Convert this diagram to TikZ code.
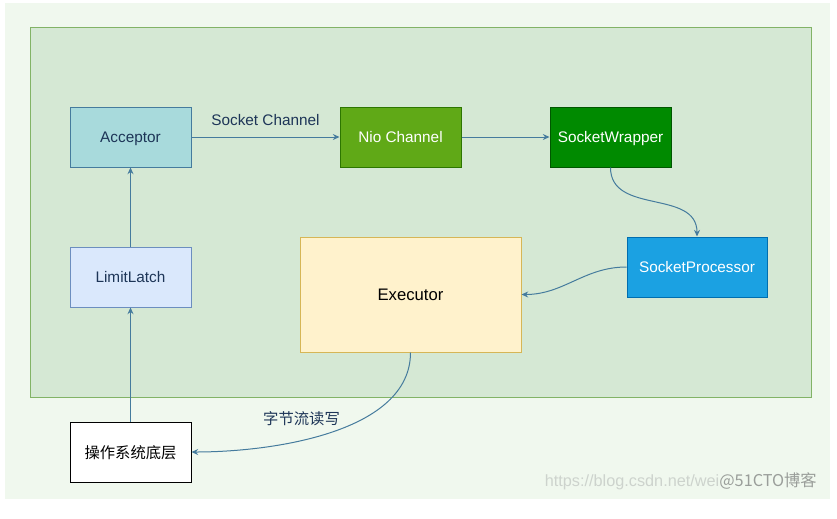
\documentclass[tikz,border=0pt]{standalone}
\usepackage{fontspec}
\setmainfont{Liberation Sans}
\newfontfamily\cjk{Noto Sans CJK SC}
\usepackage{tikz}
\usetikzlibrary{arrows.meta}
\definecolor{outerbg}{HTML}{F0F8EE}
\definecolor{innerbg}{HTML}{D5E8D4}
\definecolor{innerln}{HTML}{82B366}
\definecolor{acc}{HTML}{A8DADC}
\definecolor{edgeblue}{HTML}{457B9D}
\definecolor{darkblue}{HTML}{1D3557}
\definecolor{latchbg}{HTML}{DAE8FC}
\definecolor{latchln}{HTML}{6C8EBF}
\definecolor{niobg}{HTML}{60A917}
\definecolor{nioln}{HTML}{2D7600}
\definecolor{wrapbg}{HTML}{008A00}
\definecolor{wrapln}{HTML}{005700}
\definecolor{procbg}{HTML}{1BA1E2}
\definecolor{procln}{HTML}{006EAF}
\definecolor{execbg}{HTML}{FFF2CC}
\definecolor{execln}{HTML}{D6B656}
\tikzset{
  box/.style={draw, line width=0.75pt, minimum width=90.75pt, minimum height=45pt,
    inner sep=0pt, text height=8.2pt, text depth=0pt, font=\fontsize{11.5}{13}\selectfont},
  flow/.style={every edge/.style={draw=edgeblue, line width=0.75pt,
    -{Stealth[length=5pt,width=4.5pt]}}}
}
\begin{document}
\begin{tikzpicture}[x=0.75pt,y=-0.75pt]
  \useasboundingbox (0,0) rectangle (837,518);
  \fill[white] (0,0) rectangle (837,518);
  \fill[outerbg] (5,3) rectangle (830,499);
  \draw[fill=innerbg, draw=innerln, line width=0.75pt] (30,27) rectangle (811,397);

  \node[box, fill=acc, draw=edgeblue, text=darkblue] (acceptor) at (130.5,137) {Acceptor};
  \node[box, fill=niobg, draw=nioln, text=white] (nio) at (400.5,137) {Nio Channel};
  \node[box, fill=wrapbg, draw=wrapln, text=white] (wrapper) at (610.5,137) {SocketWrapper};
  \node[box, fill=procbg, draw=procln, text=white, minimum width=105pt] (processor) at (697,267) {SocketProcessor};
  \node[box, fill=execbg, draw=execln, minimum width=165.75pt, minimum height=86.25pt,
    text height=9pt, font=\fontsize{12.5}{14}\selectfont] (executor) at (410.5,294.5) {Executor};
  \node[box, fill=latchbg, draw=latchln, text=darkblue] (latch) at (130.5,277) {LimitLatch};
  \node[box, fill=white, draw=black, text height=9pt] (os) at (130.5,452) {\cjk 操作系统底层};

  \path[flow]
  (acceptor) edge node [above=5pt, text=darkblue, font=\fontsize{11.5}{13}\selectfont] {Socket Channel} (nio)
  (nio) edge (wrapper)
  (wrapper.south) edge [out=-90, in=90, looseness=1.1] (processor.north)
  (processor.west) edge [out=180, in=0] (executor.east)
  (executor.south) edge [out=-90, in=0, looseness=0.85] node [pos=0.37, left=14pt, text=darkblue,
    font=\cjk\fontsize{11.5}{13}\selectfont] {字节流读写} (os.east)
  (os) edge (latch)
  (latch) edge (acceptor)
  ;

  \node[anchor=east, inner sep=0pt, font=\fontsize{12.2}{13}\selectfont] (mark) at (817,481)
    {\textcolor[HTML]{CDD3CD}{https://blog.csdn.net/wei}\textcolor[HTML]{9A9E9A}{\cjk @51CTO博客}};
\end{tikzpicture}
\end{document}
